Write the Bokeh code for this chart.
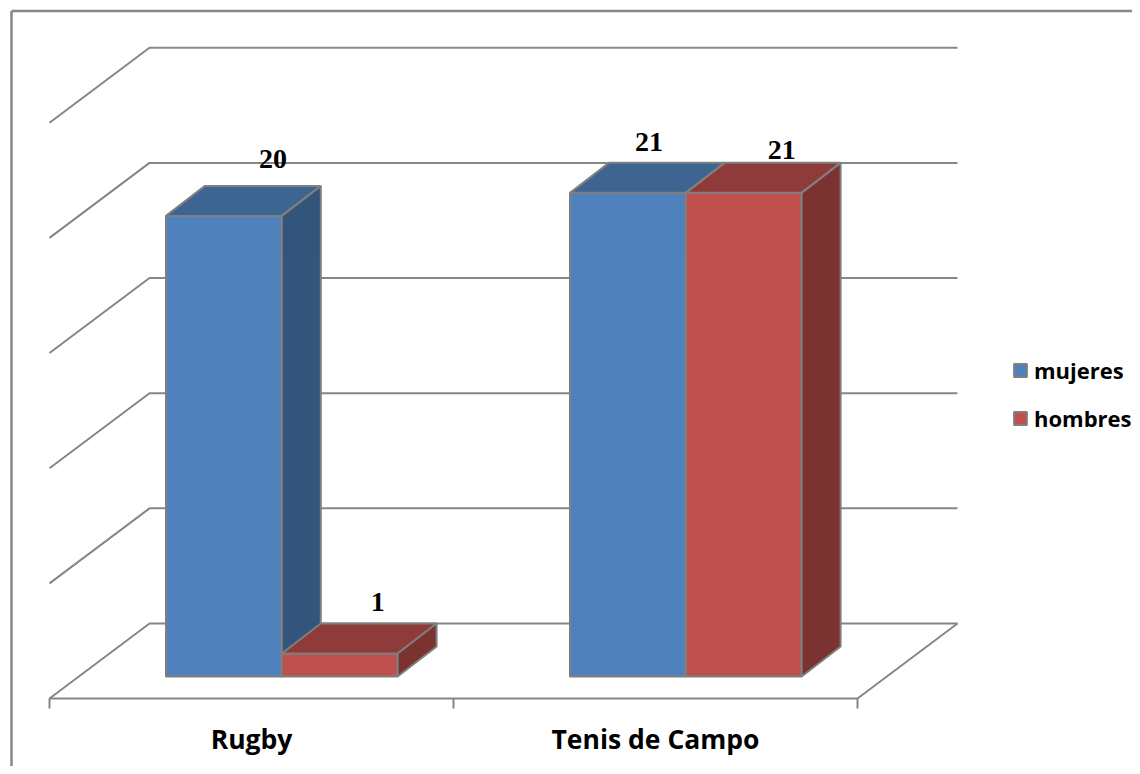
from bokeh.plotting import figure
from bokeh.models import Range1d, ColumnDataSource, Legend, LegendItem
from bokeh.core.properties import value
from bokeh.embed import file_html
from bokeh.resources import INLINE

categories = ["Rugby", "Tenis de Campo"]
mujeres = [20, 21]
hombres = [1, 21]
axis_values = [0, 5, 10, 15, 20, 25]
series_names = ["mujeres", "hombres"]

W, H = 1132, 766
PX_X = 404.0      # pixels per category
PX_Y = 23.03      # pixels per value unit
X0 = 49           # canvas px of category 0 edge
Y0 = 90           # canvas px above bottom of bar base
BAR_START = 116.5 / PX_X
BAR_W = 115.8 / PX_X
DEPTH_X, DEPTH_Y = 39 / PX_X, 30 / PX_Y
WALL_X, WALL_Y = 100 / PX_X, 75 / PX_Y
FLOOR_Y = -22 / PX_Y
LINE = "#868686"
EDGE = "#7F7F7F"

p = figure(width=W, height=H, output_backend="svg", toolbar_location=None,
           x_range=Range1d(-X0 / PX_X, (W - X0) / PX_X),
           y_range=Range1d(-Y0 / PX_Y, (H - Y0) / PX_Y),
           min_border=0, outline_line_color=None, background_fill_color="white",
           border_fill_color="white", x_axis_type=None, y_axis_type=None)
p.xgrid.visible = False
p.ygrid.visible = False

n = len(categories)
x_r = p.x_range.end
y_l = p.y_range.start

# outer chart frame (only its left and top sides reach the picture)
frame_x = -38 / PX_X
frame_y = (H - Y0 - 10.5) / PX_Y
p.segment([frame_x, frame_x], [frame_y, frame_y], [frame_x, x_r], [y_l, frame_y],
          line_color=LINE, line_width=2.5)

# walls: back lines + side lines + floor edges
for v in axis_values:
    yf = FLOOR_Y + v
    p.line([0, WALL_X, n + WALL_X], [yf, yf + WALL_Y, yf + WALL_Y], line_color=LINE, line_width=2)
p.line([0, n, n + WALL_X], [FLOOR_Y, FLOOR_Y, FLOOR_Y + WALL_Y], line_color=LINE, line_width=2)
tick_len = 10 / PX_Y
ticks = list(range(n + 1))
p.segment(ticks, [FLOOR_Y] * (n + 1), ticks, [FLOOR_Y - tick_len] * (n + 1), line_color=LINE, line_width=2)

# bars
styles = [("#4F81BD", "#3E6491", "#34557B"), ("#C0504D", "#8E3B39", "#7A3330")]
legend_items = []
for s, (vals, name) in enumerate(zip([mujeres, hombres], series_names)):
    front, top, side = {"xs": [], "ys": []}, {"xs": [], "ys": []}, {"xs": [], "ys": []}
    for c, v in enumerate(vals):
        a = c + BAR_START + s * BAR_W
        b = a + BAR_W
        front["xs"].append([a, b, b, a]); front["ys"].append([0, 0, v, v])
        top["xs"].append([a, b, b + DEPTH_X, a + DEPTH_X]); top["ys"].append([v, v, v + DEPTH_Y, v + DEPTH_Y])
        side["xs"].append([b, b + DEPTH_X, b + DEPTH_X, b]); side["ys"].append([0, DEPTH_Y, v + DEPTH_Y, v])
    r_f = p.patches("xs", "ys", source=ColumnDataSource(front), fill_color=styles[s][0], line_color=EDGE, line_width=2)
    p.patches("xs", "ys", source=ColumnDataSource(top), fill_color=styles[s][1], line_color=EDGE, line_width=2)
    p.patches("xs", "ys", source=ColumnDataSource(side), fill_color=styles[s][2], line_color=EDGE, line_width=2)
    legend_items.append(LegendItem(label=name, renderers=[r_f]))

# data labels (order: Rugby mujeres, Rugby hombres, Tenis mujeres, Tenis hombres)
lab_offsets_x = [49, 38, 21, 38]
lab_offsets_y = [-57, -51, -51, -43]
lx, ly, lt = [], [], []
for c in range(n):
    for s, vals in enumerate([mujeres, hombres]):
        lx.append(c + BAR_START + s * BAR_W + BAR_W / 2)
        ly.append(vals[c])
        lt.append(str(vals[c]))
p.text(lx, ly, text=lt, x_offset=lab_offsets_x, y_offset=lab_offsets_y,
       text_font=value("Liberation Serif"), text_font_style="bold", text_font_size="28px",
       text_align="center", text_baseline="middle", text_color="black")

# category labels
p.text([c + 0.5 for c in range(n)], [FLOOR_Y] * n, text=categories, y_offset=[40] * n,
       text_font=value("Open Sans"), text_font_style="bold", text_font_size="26.5px",
       text_align="center", text_baseline="middle", text_color="black")

legend = Legend(items=legend_items, location=(1012, 333), orientation="vertical",
                background_fill_alpha=0, border_line_color=None, padding=0, margin=0,
                glyph_width=16, glyph_height=16, label_standoff=6, spacing=18,
                label_text_font="Open Sans", label_text_font_style="bold",
                label_text_font_size="22px", label_text_color="black", label_height=30)
p.add_layout(legend, "center")

open("out.html", "w").write(file_html(p, INLINE))
